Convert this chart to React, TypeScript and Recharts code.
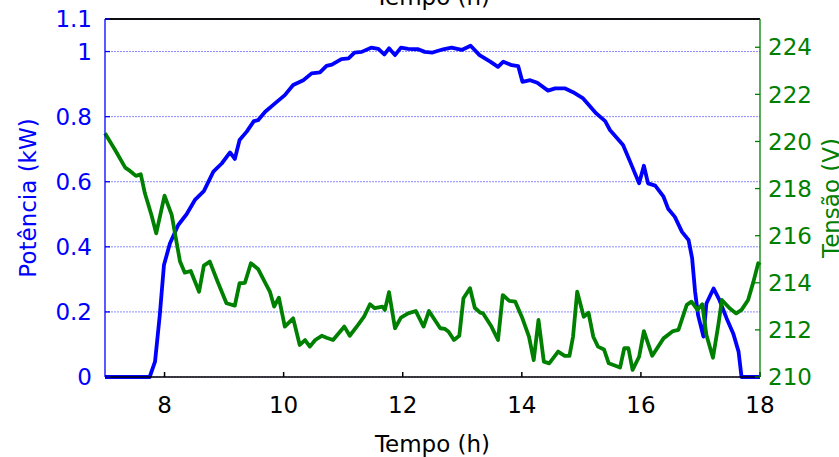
import { LineChart, Line, XAxis, YAxis, CartesianGrid, ReferenceLine } from 'recharts';

const powerTime = [
  7.0, 7.75, 7.84, 7.92, 7.99, 8.09, 8.23, 8.37, 8.51, 8.66, 8.82, 8.96, 9.1, 9.18, 9.26, 9.38, 9.5, 9.57,
  9.69, 9.85, 10.02, 10.16, 10.33, 10.47, 10.61, 10.72, 10.81, 10.97, 11.09, 11.19, 11.31, 11.47, 11.59,
  11.69, 11.77, 11.87, 11.97, 12.09, 12.26, 12.37, 12.5, 12.68, 12.82, 12.99, 13.14, 13.29, 13.47, 13.6,
  13.69, 13.83, 13.94, 14.01, 14.14, 14.26, 14.44, 14.56, 14.72, 14.86, 15.03, 15.14, 15.25, 15.4, 15.48,
  15.7, 15.82, 15.97, 16.05, 16.12, 16.24, 16.38, 16.46, 16.57, 16.69, 16.8, 16.86, 16.91, 16.96, 17.05,
  17.1, 17.22, 17.32, 17.44, 17.55, 17.64, 17.69, 18.0,
];
const powerValues = [
  0, 0, 0.047, 0.19, 0.344, 0.41, 0.467, 0.5, 0.544, 0.571, 0.631, 0.656, 0.69, 0.67, 0.728, 0.754, 0.786, 0.789,
  0.815, 0.84, 0.866, 0.897, 0.912, 0.933, 0.936, 0.956, 0.96, 0.977, 0.979, 0.997, 0.999, 1.012, 1.008,
  0.991, 1.01, 0.989, 1.012, 1.008, 1.007, 0.999, 0.997, 1.007, 1.012, 1.005, 1.018, 0.989, 0.969, 0.953,
  0.969, 0.958, 0.955, 0.907, 0.912, 0.904, 0.88, 0.887, 0.887, 0.875, 0.856, 0.833, 0.81, 0.786, 0.759,
  0.713, 0.661, 0.595, 0.649, 0.595, 0.588, 0.554, 0.516, 0.492, 0.446, 0.421, 0.365, 0.262, 0.19, 0.124,
  0.226, 0.272, 0.236, 0.18, 0.134, 0.078, 0, 0,
];

const voltageTime = [
  7.0, 7.17, 7.34, 7.42, 7.52, 7.6, 7.67, 7.78, 7.86, 8.0, 8.12, 8.19, 8.26, 8.34, 8.44, 8.58, 8.66, 8.76,
  8.88, 9.04, 9.18, 9.26, 9.35, 9.45, 9.57, 9.7, 9.77, 9.84, 9.92, 10.02, 10.16, 10.27, 10.36, 10.44, 10.53,
  10.64, 10.72, 10.83, 11.02, 11.11, 11.25, 11.35, 11.45, 11.53, 11.66, 11.7, 11.77, 11.87, 11.97, 12.09,
  12.22, 12.35, 12.44, 12.63, 12.71, 12.77, 12.86, 12.95, 13.02, 13.13, 13.21, 13.3, 13.35, 13.49, 13.6,
  13.68, 13.79, 13.89, 14.01, 14.12, 14.2, 14.28, 14.37, 14.46, 14.61, 14.72, 14.8, 14.86, 14.93, 15.04,
  15.12, 15.2, 15.28, 15.38, 15.46, 15.65, 15.72, 15.79, 15.86, 15.97, 16.05, 16.19, 16.38, 16.54, 16.63,
  16.77, 16.85, 16.95, 17.03, 17.1, 17.21, 17.3, 17.36, 17.49, 17.6, 17.69, 17.8, 17.89, 17.97, 18.0,
];
const voltageValues = [
  220.35, 219.64, 218.89, 218.75, 218.54, 218.61, 217.8, 216.88, 216.1, 217.7, 216.88, 215.89, 214.9, 214.43,
  214.5, 213.62, 214.73, 214.9, 214.12, 213.13, 213.03, 213.98, 214.0, 214.83, 214.59, 213.95, 213.62, 212.99,
  213.37, 212.14, 212.49, 211.36, 211.57, 211.29, 211.57, 211.75, 211.67, 211.57, 212.14, 211.75, 212.21,
  212.56, 213.09, 212.92, 212.99, 212.85, 213.6, 212.07, 212.52, 212.7, 212.8, 212.14, 212.8, 212.07, 212.04,
  211.92, 211.57, 211.75, 213.34, 213.77, 212.94, 212.73, 212.7, 212.14, 211.57, 213.48, 213.23, 213.2,
  212.49, 211.71, 210.72, 212.42, 210.65, 210.58, 211.08, 210.9, 210.9, 211.71, 213.62, 212.56, 212.73,
  211.71, 211.29, 211.17, 210.58, 210.4, 211.22, 211.22, 210.3, 210.86, 211.95, 210.9, 211.64, 211.95, 212.0,
  213.06, 213.2, 212.85, 213.09, 211.78, 210.82, 212.21, 213.27, 212.92, 212.7, 212.85, 213.27, 214.05,
  214.83, 214.75,
];

const timeTicks = [8, 10, 12, 14, 16, 18];
const powerTicks = [0, 0.2, 0.4, 0.6, 0.8, 1, 1.1];
const voltageTicks = [210, 212, 214, 216, 218, 220, 222, 224];

const powerData = powerTime.map((t, i) => ({ t, p: powerValues[i] }));
const voltageData = voltageTime.map((t, i) => ({ t, v: voltageValues[i] }));

const FONT = '"DejaVu Sans", sans-serif';
const BLUE = '#0000ff';
const GREEN = '#008000';

export default function App() {
  return (
    <div style={{ position: 'absolute', left: 0, top: 0, width: 839, height: 457, background: '#fff', fontFamily: FONT }}>
      <LineChart width={839} height={457} margin={{ top: 0, right: 0, bottom: 0, left: 0 }}>
        <CartesianGrid
          yAxisId="p"
          xAxisId="b"
          vertical={false}
          stroke="#8a8aff"
          strokeDasharray="2 1"
        />
        <XAxis
          xAxisId="b"
          type="number"
          dataKey="t"
          domain={[7, 18]}
          ticks={timeTicks}
          interval={0}
          height={80}
          stroke="#000"
          strokeWidth={1.5}
          tickSize={-5}
          tickMargin={25}
          tick={{ fill: '#000', fontSize: 23, fontFamily: FONT }}
          label={{ value: 'Tempo (h)', position: 'insideBottom', offset: 5, fill: '#000', fontSize: 23, fontFamily: FONT }}
        />
        <XAxis
          xAxisId="top"
          orientation="top"
          type="number"
          dataKey="t"
          domain={[7, 18]}
          ticks={timeTicks}
          interval={0}
          height={19}
          stroke="#000"
          strokeWidth={1.5}
          tickSize={-5}
          tick={false}
          label={{ value: 'Tempo (h)', position: 'insideTop', offset: -11, fill: '#000', fontSize: 23, fontFamily: FONT }}
        />
        <YAxis
          yAxisId="p"
          orientation="left"
          domain={[0, 1.1]}
          ticks={powerTicks}
          interval={0}
          width={105}
          stroke={BLUE}
          strokeWidth={1.3}
          tickSize={-5}
          tickMargin={18}
          tick={{ fill: BLUE, fontSize: 23, fontFamily: FONT }}
          label={{
            value: 'Potência (kW)',
            angle: -90,
            position: 'insideLeft',
            offset: 28,
            fill: BLUE,
            fontSize: 23,
            fontFamily: FONT,
            style: { textAnchor: 'middle' },
          }}
        />
        <YAxis
          yAxisId="pr"
          orientation="right"
          domain={[0, 1.1]}
          ticks={powerTicks}
          interval={0}
          width={0}
          stroke={BLUE}
          strokeWidth={1.3}
          axisLine={false}
          tickSize={-5}
          tick={false}
        />
        <YAxis
          yAxisId="v"
          orientation="right"
          domain={[210, 225.2]}
          allowDataOverflow
          ticks={voltageTicks}
          interval={0}
          width={79}
          stroke={GREEN}
          strokeWidth={1.3}
          tickSize={-5}
          tickMargin={13}
          tick={{ fill: GREEN, fontSize: 23, fontFamily: FONT }}
          label={{
            value: 'Tensão (V)',
            angle: -90,
            position: 'insideRight',
            offset: 8,
            fill: GREEN,
            fontSize: 23,
            fontFamily: FONT,
            style: { textAnchor: 'middle' },
          }}
        />
        <ReferenceLine xAxisId="b" yAxisId="p" y={1.1} stroke="#000" strokeWidth={1.5} ifOverflow="visible" />
        <Line
          xAxisId="b"
          yAxisId="p"
          data={powerData}
          dataKey="p"
          type="linear"
          stroke={BLUE}
          strokeWidth={3.8}
          strokeLinejoin="round"
          dot={false}
          isAnimationActive={false}
        />
        <Line
          xAxisId="b"
          yAxisId="v"
          data={voltageData}
          dataKey="v"
          type="linear"
          stroke={GREEN}
          strokeWidth={3.8}
          strokeLinejoin="round"
          dot={false}
          isAnimationActive={false}
        />
      </LineChart>
    </div>
  );
}
